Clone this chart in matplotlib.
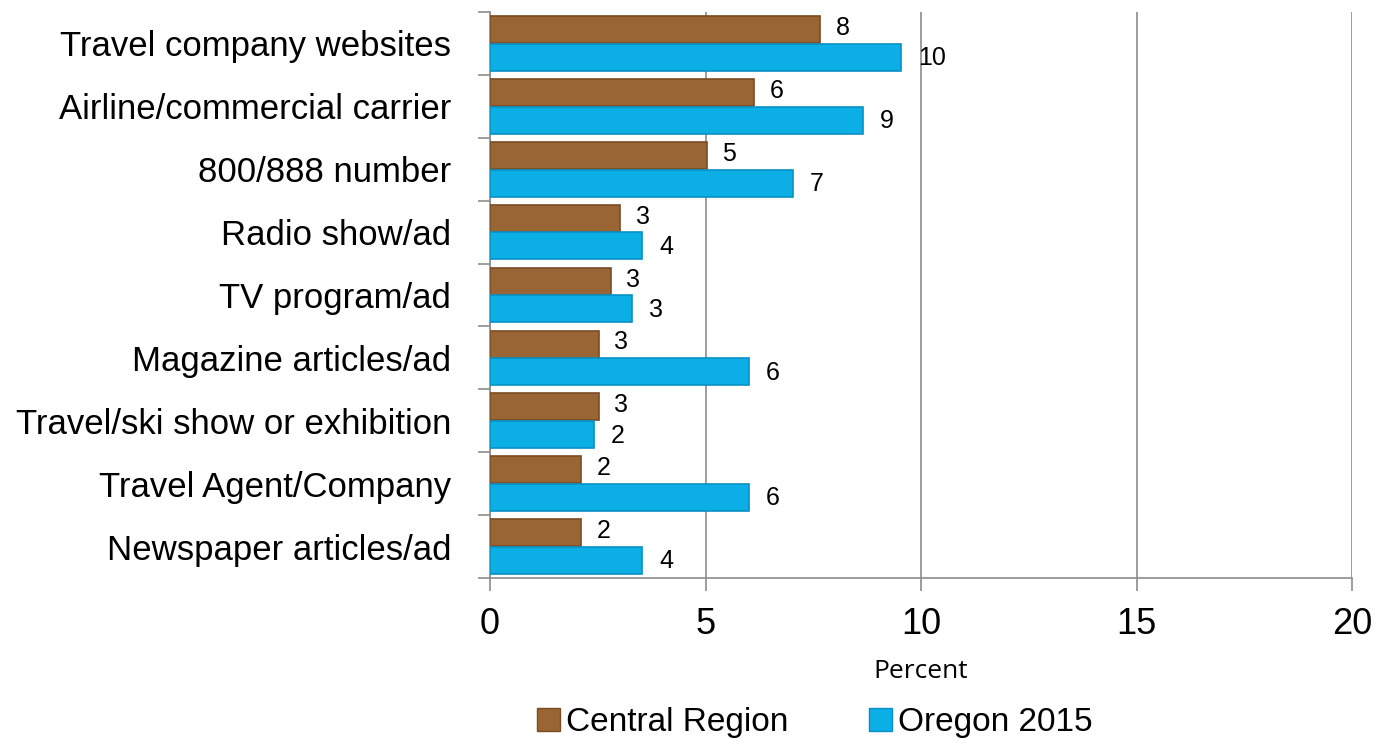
import numpy as np
import matplotlib.pyplot as plt
from matplotlib.patches import Patch

# categories listed top to bottom
categories = [
    "Travel company websites",
    "Airline/commercial carrier",
    "800/888 number",
    "Radio show/ad",
    "TV program/ad",
    "Magazine articles/ad",
    "Travel/ski show or exhibition",
    "Travel Agent/Company",
    "Newspaper articles/ad",
]
central = [7.66, 6.13, 5.03, 3.02, 2.8, 2.52, 2.52, 2.11, 2.11]
oregon = [9.54, 8.65, 7.03, 3.52, 3.3, 6.0, 2.41, 6.0, 3.53]
central_labels = ["8", "6", "5", "3", "3", "3", "3", "2", "2"]
oregon_labels = ["10", "9", "7", "4", "3", "6", "2", "6", "4"]

brown = "#9A6535"
blue = "#0BAEE5"
grid_c = "#8C8C8C"

plt.rcParams["font.family"] = ["Liberation Sans", "DejaVu Sans"]

fig = plt.figure(figsize=(13.79, 7.48), dpi=100)
ax = fig.add_axes([490 / 1379, 1 - 578 / 748, 862 / 1379, 566 / 748])

n = len(categories)
y = np.arange(n)
h = 0.43
ax.barh(y - h / 2 - 0.005, central, height=h, color=brown, edgecolor="#7A4C24", linewidth=1.2, zorder=3)
ax.barh(y + h / 2 + 0.005, oregon, height=h, color=blue, edgecolor="#0890C4", linewidth=1.2, zorder=3)

for i in range(n):
    ax.text(central[i] + 0.36, y[i] - h / 2 - 0.03, central_labels[i], va="center", ha="left", fontsize=18)
    ax.text(oregon[i] + 0.40, y[i] + h / 2 + 0.02, oregon_labels[i], va="center", ha="left", fontsize=18)

ax.set_xlim(0, 20)
ax.set_ylim(n - 0.5, -0.5)
ax.set_xticks([0, 5, 10, 15, 20])
ax.set_xticklabels(["0", "5", "10", "15", "20"], fontsize=26)
ax.set_yticks(y)
ax.set_yticklabels(categories, fontsize=25)
ax.tick_params(axis="y", which="major", length=0, pad=28)
ax.set_yticks(np.arange(-0.5, n, 1.0), minor=True)
ax.tick_params(axis="y", which="minor", length=9, color=grid_c, width=1.2)
ax.tick_params(axis="x", length=9, color=grid_c, width=1.2, pad=12)
ax.xaxis.grid(True, color=grid_c, linewidth=1.2, zorder=0)

for s in ["top", "right"]:
    ax.spines[s].set_visible(False)
for s in ["left", "bottom"]:
    ax.spines[s].set_color(grid_c)
    ax.spines[s].set_linewidth(1.2)

ax.set_xlabel("Percent", fontsize=19, family=["Open Sans", "DejaVu Sans"], labelpad=12)

handles = [Patch(facecolor=brown, edgecolor="#7A4C24"), Patch(facecolor=blue, edgecolor="#0890C4")]
fig.legend(handles, ["Central Region", "Oregon 2015"], loc="center", bbox_to_anchor=(815 / 1379, 1 - 723 / 748),
           ncol=2, frameon=False, fontsize=24,
           handlelength=0.68, handleheight=0.68, handletextpad=0.2, columnspacing=2.4)

fig.savefig("out.png", dpi=100)
